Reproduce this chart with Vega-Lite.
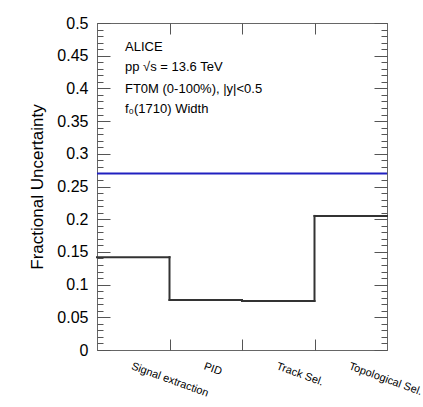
{
  "$schema": "https://vega.github.io/schema/vega-lite/v6.json",
  "autosize": {"type": "none"},
  "padding": {"left": 97, "top": 23, "right": 36, "bottom": 57},
  "width": 290,
  "height": 327,
  "background": "white",
  "config": {
    "view": {"stroke": "#666666", "strokeWidth": 1},
    "font": "Liberation Sans",
    "axis": {"grid": false, "domain": false, "tickColor": "#555555", "labelColor": "black", "titleColor": "black", "labelFont": "Liberation Sans", "titleFont": "Liberation Sans"}
  },
  "datasets": {
    "sources": [
      {"source": "Signal extraction", "lo": 0, "hi": 1, "value": 0.142},
      {"source": "PID", "lo": 1, "hi": 2, "value": 0.0765},
      {"source": "Track Sel.", "lo": 2, "hi": 3, "value": 0.075},
      {"source": "Topological Sel.", "lo": 3, "hi": 4, "value": 0.205}
    ],
    "total": [
      {"lo": 0, "hi": 4, "value": 0.27}
    ],
    "notes": [
      {"x": 0.386, "y": 0.4576, "label": "ALICE"},
      {"x": 0.386, "y": 0.427, "label": "pp √s = 13.6 TeV"},
      {"x": 0.386, "y": 0.3934, "label": "FT0M (0-100%), |y|<0.5"},
      {"x": 0.386, "y": 0.362, "label": "f₀(1710) Width"}
    ]
  },
  "layer": [
    {
      "data": {"name": "sources"},
      "mark": {"type": "rule", "color": "#333333", "strokeWidth": 2, "strokeCap": "square"},
      "encoding": {
        "x": {"field": "lo", "type": "quantitative", "scale": {"domain": [0, 4], "nice": false, "zero": false},
          "axis": {"orient": "bottom", "values": [1, 2, 3], "tickSize": 11, "offset": -11, "labels": false, "title": null}},
        "x2": {"field": "hi"},
        "y": {"field": "value", "type": "quantitative", "scale": {"domain": [0, 0.5], "nice": false},
          "axis": {"orient": "left", "values": [0, 0.05, 0.1, 0.15, 0.2, 0.25, 0.3, 0.35, 0.4, 0.45, 0.5], "format": "~g", "tickSize": 13, "offset": -13, "labelPadding": 9, "labelFontSize": 16, "title": "Fractional Uncertainty", "titleFontSize": 17, "titleFontWeight": "normal", "titlePadding": 10}}
      }
    },
    {
      "data": {"name": "sources"},
      "transform": [
        {"window": [{"op": "lead", "field": "value", "as": "next"}], "sort": [{"field": "lo"}]},
        {"filter": "datum.next != null"}
      ],
      "mark": {"type": "rule", "color": "#333333", "strokeWidth": 2, "strokeCap": "square"},
      "encoding": {
        "x": {"field": "hi", "type": "quantitative",
          "axis": {"orient": "bottom", "values": [0.5, 1.5, 2.5, 3.5], "ticks": false, "labelPadding": 10, "labelAngle": 20, "labelAlign": "left", "labelBaseline": "top", "labelFontSize": 11, "labelOverlap": false,
            "labelExpr": "datum.value < 1 ? 'Signal extraction' : datum.value < 2 ? 'PID' : datum.value < 3 ? 'Track Sel.' : 'Topological Sel.'", "title": null}},
        "y": {"field": "value", "type": "quantitative",
          "axis": {"orient": "left", "values": [0, 0.01, 0.02, 0.03, 0.04, 0.05, 0.06, 0.07, 0.08, 0.09, 0.1, 0.11, 0.12, 0.13, 0.14, 0.15, 0.16, 0.17, 0.18, 0.19, 0.2, 0.21, 0.22, 0.23, 0.24, 0.25, 0.26, 0.27, 0.28, 0.29, 0.3, 0.31, 0.32, 0.33, 0.34, 0.35, 0.36, 0.37, 0.38, 0.39, 0.4, 0.41, 0.42, 0.43, 0.44, 0.45, 0.46, 0.47, 0.48, 0.49, 0.5], "tickSize": 6, "offset": -6, "labels": false, "title": null}},
        "y2": {"field": "next"}
      }
    },
    {
      "data": {"name": "total"},
      "mark": {"type": "rule", "color": "#2020c0", "strokeWidth": 2},
      "encoding": {
        "x": {"field": "lo", "type": "quantitative",
          "axis": {"orient": "top", "values": [1, 2, 3], "tickSize": 11, "offset": -11, "labels": false, "title": null}},
        "x2": {"field": "hi"},
        "y": {"field": "value", "type": "quantitative",
          "axis": {"orient": "right", "values": [0, 0.05, 0.1, 0.15, 0.2, 0.25, 0.3, 0.35, 0.4, 0.45, 0.5], "tickSize": 13, "offset": -13, "labels": false, "title": null}}
      }
    },
    {
      "data": {"name": "notes"},
      "mark": {"type": "text", "align": "left", "baseline": "alphabetic", "fontSize": 13, "color": "black", "font": "Liberation Sans"},
      "encoding": {
        "x": {"field": "x", "type": "quantitative", "axis": null},
        "y": {"field": "y", "type": "quantitative",
          "axis": {"orient": "right", "values": [0, 0.01, 0.02, 0.03, 0.04, 0.05, 0.06, 0.07, 0.08, 0.09, 0.1, 0.11, 0.12, 0.13, 0.14, 0.15, 0.16, 0.17, 0.18, 0.19, 0.2, 0.21, 0.22, 0.23, 0.24, 0.25, 0.26, 0.27, 0.28, 0.29, 0.3, 0.31, 0.32, 0.33, 0.34, 0.35, 0.36, 0.37, 0.38, 0.39, 0.4, 0.41, 0.42, 0.43, 0.44, 0.45, 0.46, 0.47, 0.48, 0.49, 0.5], "tickSize": 6, "offset": -6, "labels": false, "title": null}},
        "text": {"field": "label"}
      }
    }
  ],
  "resolve": {"axis": {"x": "independent", "y": "independent"}}
}
